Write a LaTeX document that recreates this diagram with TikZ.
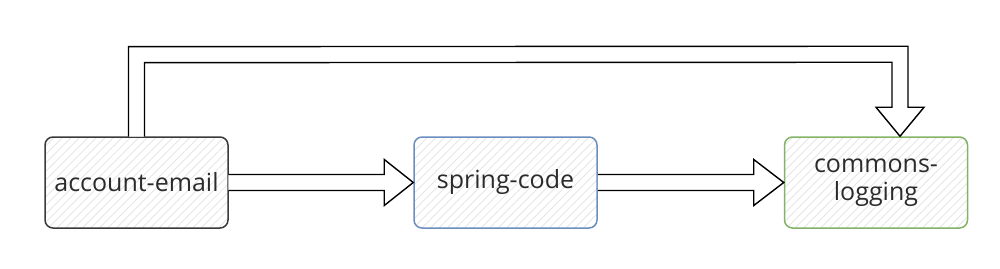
\documentclass[tikz,border=0pt]{standalone}
\usepackage{fontspec}
\setmainfont{Open Sans}
\usetikzlibrary{patterns.meta,calc}
\definecolor{txt}{HTML}{2B2B2B}
\definecolor{bord}{HTML}{3A3A3A}
\definecolor{bluec}{HTML}{6C8EBF}
\definecolor{greenc}{HTML}{82B366}
\definecolor{hatch}{HTML}{E2E2E2}
\tikzset{
  box/.style={minimum width=183pt, minimum height=91pt, rounded corners=8pt, line width=1.5pt,
    inner sep=0pt, align=center, text=txt, font=\fontsize{25}{28}\selectfont,
    preaction={fill=white},
    pattern={Lines[angle=45,distance=6pt,line width=0.7pt]}, pattern color=hatch},
  bigarrow/.style={draw=black, fill=white, line width=1.4pt, line join=miter}
}
\begin{document}
\begin{tikzpicture}[x=1pt,y=1pt]
\useasboundingbox (0,0) rectangle (1000,268);
\node[box, draw=bord] (a) at (136.5,85.5) {account-email};
\node[box, draw=bluec] (b) at (505.5,85.5) {spring-code};
\node[box, draw=greenc] (c) at (876,85.5) {commons-\\logging};
% arrow a -> b
\draw[bigarrow] ($(a.east)+(0,8)$) -- ($(b.west)+(-29,8)$) -- ($(b.west)+(-29,23)$) -- (b.west)
  -- ($(b.west)+(-29,-23)$) -- ($(b.west)+(-29,-8)$) -- ($(a.east)+(0,-8)$);
% arrow b -> c
\draw[bigarrow] ($(b.east)+(0,8)$) -- ($(c.west)+(-30,8)$) -- ($(c.west)+(-30,23)$) -- (c.west)
  -- ($(c.west)+(-30,-23)$) -- ($(c.west)+(-30,-8)$) -- ($(b.east)+(0,-8)$);
% top arrow a -> c
\coordinate (ctip) at ($(c.north)+(24,0)$);
\draw[bigarrow] ($(a.north)+(-8,0)$) -- ($(a.north)+(-8,90)$) -- ($(ctip)+(8,90)$)
  -- ($(ctip)+(8,29)$) -- ($(ctip)+(24,29)$) -- (ctip) -- ($(ctip)+(-24,29)$)
  -- ($(ctip)+(-8,29)$) -- ($(ctip)+(-8,74)$) -- ($(a.north)+(8,74)$) -- ($(a.north)+(8,0)$);
\end{tikzpicture}
\end{document}
